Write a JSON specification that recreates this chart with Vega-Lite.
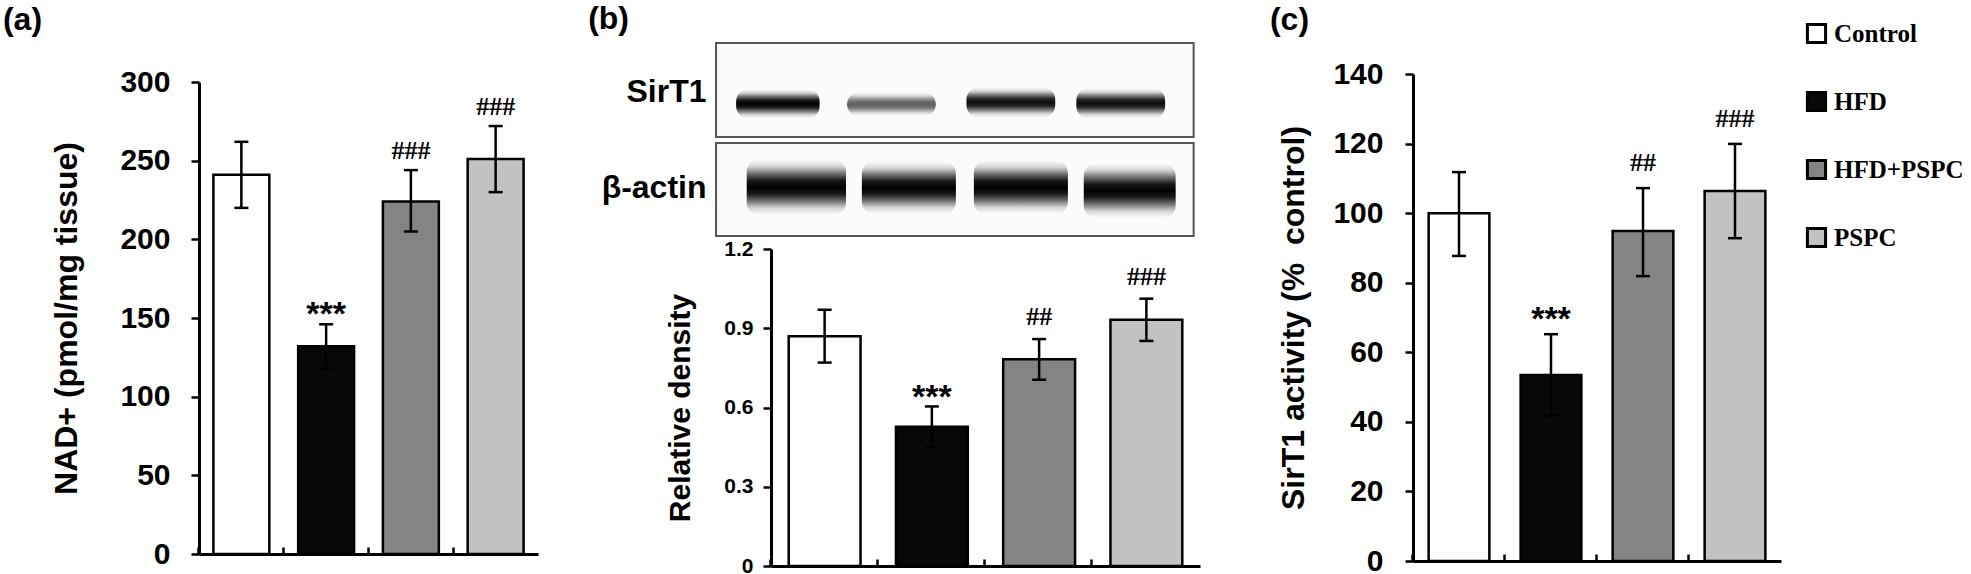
{
  "$schema": "https://vega.github.io/schema/vega-lite/v6.json",
  "padding": {"left": 2, "top": 3, "right": 0, "bottom": 0},
  "background": "white",
  "datasets": {
    "nad": [
      {"group": "Control", "mean": 241, "lo": 220, "hi": 262, "sig": ""},
      {"group": "HFD", "mean": 132, "lo": 118, "hi": 146, "sig": "***"},
      {"group": "HFD+PSPC", "mean": 224, "lo": 205, "hi": 244, "sig": "###"},
      {"group": "PSPC", "mean": 251, "lo": 230, "hi": 272, "sig": "###"}
    ],
    "density": [
      {"group": "Control", "mean": 0.87, "lo": 0.77, "hi": 0.97, "sig": ""},
      {"group": "HFD", "mean": 0.527, "lo": 0.45, "hi": 0.604, "sig": "***"},
      {"group": "HFD+PSPC", "mean": 0.783, "lo": 0.705, "hi": 0.859, "sig": "##"},
      {"group": "PSPC", "mean": 0.932, "lo": 0.852, "hi": 1.012, "sig": "###"}
    ],
    "activity": [
      {"group": "Control", "mean": 100, "lo": 87.7, "hi": 111.8, "sig": ""},
      {"group": "HFD", "mean": 53.5, "lo": 41.8, "hi": 65.2, "sig": "***"},
      {"group": "HFD+PSPC", "mean": 94.9, "lo": 81.9, "hi": 107.2, "sig": "##"},
      {"group": "PSPC", "mean": 106.4, "lo": 92.8, "hi": 119.9, "sig": "###"}
    ],
    "blotbox": [
      {"protein": "SirT1", "x1": -0.52, "x2": 4.0, "y1": 1.026, "y2": 2.0},
      {"protein": "β-actin", "x1": -0.52, "x2": 4.0, "y1": 0, "y2": 0.964}
    ],
    "blotband": [
      {"protein": "SirT1", "lane": "Control", "x1": -0.33, "x2": 0.46, "y1": 1.22, "y2": 1.52, "intensity": 1},
      {"protein": "SirT1", "lane": "HFD", "x1": 0.72, "x2": 1.56, "y1": 1.24, "y2": 1.49, "intensity": 0.62},
      {"protein": "SirT1", "lane": "HFD+PSPC", "x1": 1.85, "x2": 2.69, "y1": 1.23, "y2": 1.54, "intensity": 0.95},
      {"protein": "SirT1", "lane": "PSPC", "x1": 2.89, "x2": 3.73, "y1": 1.22, "y2": 1.53, "intensity": 0.95},
      {"protein": "β-actin", "lane": "Control", "x1": -0.23, "x2": 0.71, "y1": 0.22, "y2": 0.79, "intensity": 1},
      {"protein": "β-actin", "lane": "HFD", "x1": 0.86, "x2": 1.75, "y1": 0.23, "y2": 0.77, "intensity": 1},
      {"protein": "β-actin", "lane": "HFD+PSPC", "x1": 1.92, "x2": 2.81, "y1": 0.23, "y2": 0.78, "intensity": 1},
      {"protein": "β-actin", "lane": "PSPC", "x1": 2.96, "x2": 3.83, "y1": 0.19, "y2": 0.75, "intensity": 1}
    ]
  },
  "config": {
    "view": {"stroke": null},
    "font": "Liberation Sans",
    "axis": {
      "domainColor": "black",
      "domainWidth": 3,
      "tickColor": "black",
      "tickWidth": 2.5,
      "labelColor": "black",
      "titleColor": "black",
      "labelFontWeight": "bold",
      "titleFontWeight": "bold",
      "grid": false
    },
    "axisX": {"labels": false, "title": null, "tickSize": -7, "bandPosition": -0.2576},
    "title": {"fontSize": 32, "fontWeight": "bold", "anchor": "start", "color": "black", "frame": "bounds", "offset": 6},
    "legend": {
      "orient": "none",
      "legendX": 1605,
      "legendY": -22,
      "title": null,
      "symbolType": "square",
      "symbolSize": 330,
      "symbolStrokeColor": "black",
      "symbolStrokeWidth": 3,
      "labelFont": "Liberation Serif",
      "labelFontSize": 25,
      "labelFontWeight": "bold",
      "labelColor": "black",
      "rowPadding": 37,
      "labelOffset": 5,
      "padding": 0
    }
  },
  "spacing": 50,
  "hconcat": [
    {
      "title": {"text": "(a)", "dx": -48},
      "width": 339,
      "height": 511,
      "data": {"name": "nad"},
      "encoding": {
        "x": {
          "field": "group",
          "type": "nominal",
          "sort": null,
          "scale": {"domain": ["Control", "HFD", "HFD+PSPC", "PSPC"], "paddingInner": 0.34, "paddingOuter": 0.17}
        }
      },
      "layer": [
        {
          "mark": {"type": "bar", "stroke": "black", "strokeWidth": 2.5, "opacity": 1},
          "encoding": {
            "y": {
              "field": "mean",
              "type": "quantitative",
              "scale": {"domain": [0, 300], "range": [511, 39]},
              "axis": {
                "values": [0, 50, 100, 150, 200, 250, 300],
                "title": "NAD+ (pmol/mg tissue)",
                "labelFontSize": 30,
                "titleFontSize": 32,
                "tickSize": 8,
                "labelPadding": 21,
                "titlePadding": 36
              }
            },
            "fill": {
              "field": "group",
              "type": "nominal",
              "scale": {"domain": ["Control", "HFD", "HFD+PSPC", "PSPC"], "range": ["#ffffff", "#080808", "#848484", "#c2c2c2"]}
            }
          }
        },
        {
          "mark": {"type": "rule", "color": "black", "strokeWidth": 2.5},
          "encoding": {"y": {"field": "lo", "type": "quantitative"}, "y2": {"field": "hi"}}
        },
        {
          "mark": {"type": "tick", "color": "black", "thickness": 2.5, "size": 14, "opacity": 1},
          "encoding": {"y": {"field": "hi", "type": "quantitative"}}
        },
        {
          "mark": {"type": "tick", "color": "black", "thickness": 2.5, "size": 14, "opacity": 1},
          "encoding": {"y": {"field": "lo", "type": "quantitative"}}
        },
        {
          "transform": [{"filter": "datum.sig == '***'"}],
          "mark": {"type": "text", "font": "Liberation Sans", "fontSize": 34, "fontWeight": "bold", "baseline": "alphabetic", "dy": 1, "color": "black"},
          "encoding": {"y": {"field": "hi", "type": "quantitative"}, "text": {"field": "sig"}}
        },
        {
          "transform": [{"filter": "indexof(datum.sig, '#') >= 0"}],
          "mark": {"type": "text", "font": "Liberation Serif", "fontSize": 26, "fontWeight": "bold", "baseline": "alphabetic", "dy": -11, "color": "black"},
          "encoding": {"y": {"field": "hi", "type": "quantitative"}, "text": {"field": "sig"}}
        }
      ]
    },
    {
      "title": {"text": "(b)", "dx": -13},
      "bounds": "flush",
      "spacing": 13,
      "vconcat": [
        {
          "width": 448,
          "height": 193,
          "layer": [
            {
              "data": {"name": "blotbox"},
              "mark": {"type": "rect", "fill": "#fbfbfb", "stroke": "#555555", "strokeWidth": 2},
              "encoding": {
                "x": {"field": "x1", "type": "quantitative", "scale": {"domain": [0, 4.24], "nice": false, "zero": false}, "axis": null},
                "x2": {"field": "x2"},
                "y": {
                  "field": "y1",
                  "type": "quantitative",
                  "scale": {"domain": [0, 2], "nice": false},
                  "axis": {
                    "values": [0.5, 1.5],
                    "labelExpr": "datum.value > 1 ? 'SirT1' : 'β-actin'",
                    "title": null,
                    "domain": false,
                    "ticks": false,
                    "labelFontSize": 32,
                    "labelPadding": 65
                  }
                },
                "y2": {"field": "y2"}
              }
            },
            {
              "data": {"name": "blotband"},
              "mark": {
                "type": "rect",
                "cornerRadius": 12,
                "fill": {
                  "gradient": "linear",
                  "x1": 0, "y1": 0, "x2": 0, "y2": 1,
                  "stops": [
                    {"offset": 0, "color": "rgba(0,0,0,0)"},
                    {"offset": 0.12, "color": "rgba(0,0,0,0.15)"},
                    {"offset": 0.25, "color": "rgba(0,0,0,0.55)"},
                    {"offset": 0.38, "color": "rgba(0,0,0,0.9)"},
                    {"offset": 0.5, "color": "rgba(0,0,0,1)"},
                    {"offset": 0.62, "color": "rgba(0,0,0,0.9)"},
                    {"offset": 0.75, "color": "rgba(0,0,0,0.55)"},
                    {"offset": 0.88, "color": "rgba(0,0,0,0.15)"},
                    {"offset": 1, "color": "rgba(0,0,0,0)"}
                  ]
                }
              },
              "encoding": {
                "x": {"field": "x1", "type": "quantitative"},
                "x2": {"field": "x2"},
                "y": {"field": "y1", "type": "quantitative"},
                "y2": {"field": "y2"},
                "opacity": {"field": "intensity", "type": "quantitative", "scale": {"domain": [0, 1], "range": [0, 1]}, "legend": null}
              }
            }
          ]
        },
        {
          "width": 429,
          "height": 317,
          "data": {"name": "density"},
          "encoding": {
            "x": {
              "field": "group",
              "type": "nominal",
              "sort": null,
              "scale": {"domain": ["Control", "HFD", "HFD+PSPC", "PSPC"], "paddingInner": 0.33, "paddingOuter": 0.165}
            }
          },
          "layer": [
            {
              "mark": {"type": "bar", "stroke": "black", "strokeWidth": 2.5, "opacity": 1},
              "encoding": {
                "y": {
                  "field": "mean",
                  "type": "quantitative",
                  "scale": {"domain": [0, 1.2]},
                  "axis": {
                    "values": [0, 0.3, 0.6, 0.9, 1.2],
                    "format": "~g",
                    "title": "Relative density",
                    "labelFontSize": 21,
                    "titleFontSize": 30,
                    "tickSize": 8,
                    "labelPadding": 10,
                    "titlePadding": 28
                  }
                },
                "fill": {"field": "group", "type": "nominal"}
              }
            },
            {
              "mark": {"type": "rule", "color": "black", "strokeWidth": 2.5},
              "encoding": {"y": {"field": "lo", "type": "quantitative"}, "y2": {"field": "hi"}}
            },
            {
              "mark": {"type": "tick", "color": "black", "thickness": 2.5, "size": 14, "opacity": 1},
              "encoding": {"y": {"field": "hi", "type": "quantitative"}}
            },
            {
              "mark": {"type": "tick", "color": "black", "thickness": 2.5, "size": 14, "opacity": 1},
              "encoding": {"y": {"field": "lo", "type": "quantitative"}}
            },
            {
              "transform": [{"filter": "datum.sig == '***'"}],
              "mark": {"type": "text", "font": "Liberation Sans", "fontSize": 34, "fontWeight": "bold", "baseline": "alphabetic", "dy": 2, "color": "black"},
              "encoding": {"y": {"field": "hi", "type": "quantitative"}, "text": {"field": "sig"}}
            },
            {
              "transform": [{"filter": "indexof(datum.sig, '#') >= 0"}],
              "mark": {"type": "text", "font": "Liberation Serif", "fontSize": 26, "fontWeight": "bold", "baseline": "alphabetic", "dy": -14, "color": "black"},
              "encoding": {"y": {"field": "hi", "type": "quantitative"}, "text": {"field": "sig"}}
            }
          ]
        }
      ]
    },
    {
      "title": {"text": "(c)", "dx": -8},
      "width": 368,
      "height": 518,
      "data": {"name": "activity"},
      "encoding": {
        "x": {
          "field": "group",
          "type": "nominal",
          "sort": null,
          "scale": {"domain": ["Control", "HFD", "HFD+PSPC", "PSPC"], "paddingInner": 0.34, "paddingOuter": 0.17}
        }
      },
      "layer": [
        {
          "mark": {"type": "bar", "stroke": "black", "strokeWidth": 2.5, "opacity": 1},
          "encoding": {
            "y": {
              "field": "mean",
              "type": "quantitative",
              "scale": {"domain": [0, 140], "range": [518, 31]},
              "axis": {
                "values": [0, 20, 40, 60, 80, 100, 120, 140],
                "title": "SirT1 activity (%\u00a0 control)",
                "labelFontSize": 30,
                "titleFontSize": 32,
                "tickSize": 8,
                "labelPadding": 22,
                "titlePadding": 22
              }
            },
            "fill": {"field": "group", "type": "nominal"}
          }
        },
        {
          "mark": {"type": "rule", "color": "black", "strokeWidth": 2.5},
          "encoding": {"y": {"field": "lo", "type": "quantitative"}, "y2": {"field": "hi"}}
        },
        {
          "mark": {"type": "tick", "color": "black", "thickness": 2.5, "size": 14, "opacity": 1},
          "encoding": {"y": {"field": "hi", "type": "quantitative"}}
        },
        {
          "mark": {"type": "tick", "color": "black", "thickness": 2.5, "size": 14, "opacity": 1},
          "encoding": {"y": {"field": "lo", "type": "quantitative"}}
        },
        {
          "transform": [{"filter": "datum.sig == '***'"}],
          "mark": {"type": "text", "font": "Liberation Sans", "fontSize": 34, "fontWeight": "bold", "baseline": "alphabetic", "dy": -4, "color": "black"},
          "encoding": {"y": {"field": "hi", "type": "quantitative"}, "text": {"field": "sig"}}
        },
        {
          "transform": [{"filter": "indexof(datum.sig, '#') >= 0"}],
          "mark": {"type": "text", "font": "Liberation Serif", "fontSize": 26, "fontWeight": "bold", "baseline": "alphabetic", "dy": -17, "color": "black"},
          "encoding": {"y": {"field": "hi", "type": "quantitative"}, "text": {"field": "sig"}}
        }
      ]
    }
  ]
}
